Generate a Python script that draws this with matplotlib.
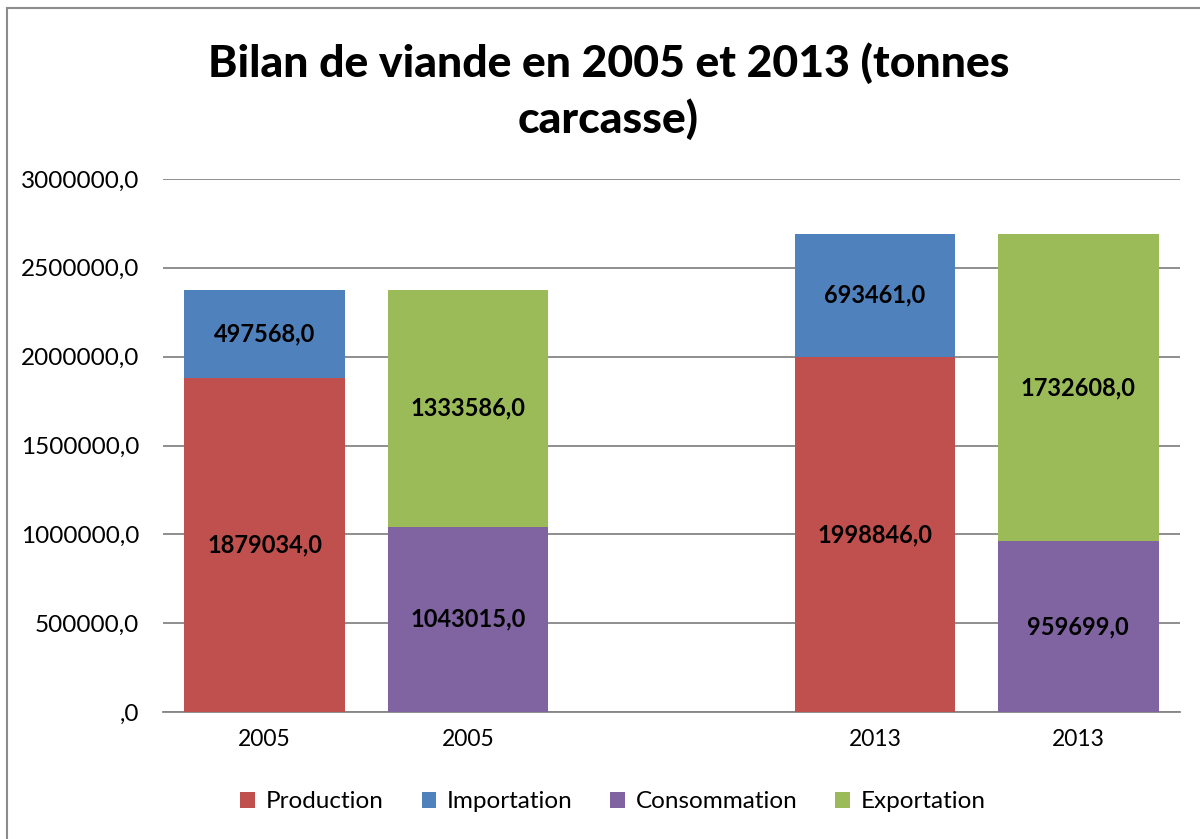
import matplotlib
matplotlib.use("Agg")
import matplotlib.pyplot as plt
from matplotlib.patches import Rectangle, Patch
import numpy as np

plt.rcParams['font.family'] = ['Lato', 'DejaVu Sans']

categories = ["2005", "2005", "", "2013", "2013"]
production = [1879034.0, 0, 0, 1998846.0, 0]
importation = [497568.0, 0, 0, 693461.0, 0]
consommation = [0, 1043015.0, 0, 0, 959699.0]
exportation = [0, 1333586.0, 0, 0, 1732608.0]
yticks = [0, 500000, 1000000, 1500000, 2000000, 2500000, 3000000]
title = "Bilan de viande en 2005 et 2013 (tonnes\ncarcasse)"

colors = {"Production": "#C0504D", "Importation": "#4F81BD",
          "Consommation": "#8064A2", "Exportation": "#9BBB59"}

fig = plt.figure(figsize=(12, 8.39), dpi=100)
fig.patches.append(Rectangle((7/1200, -0.05), 1.2, 1 - 8/839 + 0.05, transform=fig.transFigure,
                             fill=False, edgecolor="#8c8c8c", linewidth=1.5))
ax = fig.add_axes([163/1200, 1 - 712/839, (1180 - 163)/1200, (712 - 179)/839])

x = np.arange(len(categories))
w = 0.79
prod = np.array(production); imp = np.array(importation)
cons = np.array(consommation); exp_ = np.array(exportation)

ax.bar(x, prod, w, color=colors["Production"], zorder=3)
ax.bar(x, imp, w, bottom=prod, color=colors["Importation"], zorder=3)
ax.bar(x, cons, w, color=colors["Consommation"], zorder=3)
ax.bar(x, exp_, w, bottom=cons, color=colors["Exportation"], zorder=3)

def fmt(v):
    s = f"{v:.1f}".replace(".", ",")
    return s[1:] if s.startswith("0,") else s

for i in range(len(x)):
    for bottom, val in [(0, prod[i]), (prod[i], imp[i]), (0, cons[i]), (cons[i], exp_[i])]:
        if val > 0:
            ax.text(x[i], bottom + val / 2, fmt(val), ha="center", va="center",
                    fontsize=17, fontweight="bold", color="black", zorder=4)

ax.set_xlim(-0.5, len(x) - 0.5)
ax.set_ylim(0, 3000000)
ax.set_yticks(yticks)
ax.set_yticklabels([fmt(v) for v in yticks], fontsize=17.5)
ax.set_xticks(x)
ax.set_xticklabels(categories, fontsize=16.5)
ax.tick_params(axis="both", length=0)
ax.tick_params(axis="y", pad=17)
ax.tick_params(axis="x", pad=12)
ax.yaxis.grid(True, color="#868686", linewidth=1.3, zorder=0)
for s in ["top", "right", "left"]:
    ax.spines[s].set_visible(False)
ax.spines["bottom"].set_color("#868686")
ax.spines["bottom"].set_linewidth(1.3)

fig.text(0.507, 1 - 91/839, title, ha="center", va="center", fontsize=32,
         fontweight="black", linespacing=1.4)

handles = [Patch(facecolor=c, label=l) for l, c in colors.items()]
fig.legend(handles=handles, loc="center", bbox_to_anchor=(0.511, 1 - 802/839), ncol=4,
           frameon=False, fontsize=17.5, handlelength=0.6, handleheight=0.6,
           columnspacing=1.55, handletextpad=0.45)

fig.savefig("out.png", dpi=100)
